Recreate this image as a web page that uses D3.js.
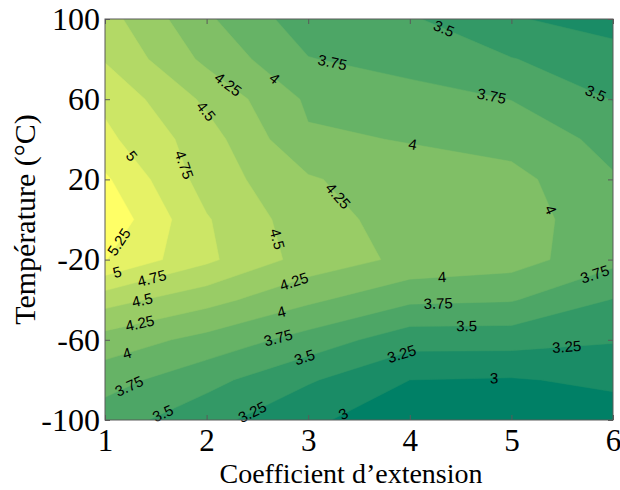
<!DOCTYPE html>
<html><head><meta charset="utf-8">
<script src="https://cdn.jsdelivr.net/npm/d3@7"></script>
<style>body{margin:0;background:#fff}svg{display:block}</style>
</head><body><svg id="chart" width="620" height="490"></svg>
<script>
// ---- data ----
const extension = [1, 2, 3, 4, 5, 6];
const temperature = [100, 80, 60, 40, 20, 0, -20, -40, -60, -80, -100];
const t100  = [4.60, 4.04, 3.61, 3.53, 3.27, 3.15];
const t80   = [4.73, 4.19, 3.76, 3.65, 3.51, 3.35];
const t60   = [4.945, 4.45, 3.96, 3.85, 3.745, 3.49];
const t40   = [5.06, 4.61, 4.03, 3.99, 3.90, 3.68];
const t20   = [5.29, 4.64, 4.28, 4.08, 4.08, 3.77];
const t0    = [5.44, 4.77, 4.35, 4.15, 4.09, 3.88];
const tm20  = [5.26, 4.80, 4.40, 4.19, 4.11, 3.82];
const tm40  = [4.60, 4.34, 4.05, 3.80, 3.77, 3.49];
const tm60  = [4.15, 3.92, 3.65, 3.35, 3.35, 3.27];
const tm80  = [3.85, 3.58, 3.28, 3.00, 2.98, 3.05];
const tm100 = [3.62, 3.34, 3.03, 2.90, 2.88, 2.88];
const levels = [3, 3.25, 3.5, 3.75, 4, 4.25, 4.5, 4.75, 5, 5.25];
const xTicks = [1, 2, 3, 4, 5, 6];
const yTicks = [-100, -60, -20, 20, 60, 100];
// contour labels: level and approximate location (data units)
const labelLevel = [3.5, 3.75, 4.25, 4, 3.5, 3.75, 4.5, 5, 4.75, 4, 4.25, 4, 4.5, 5.25, 5, 4.75, 4.5, 4.25, 4, 3.75, 3.5, 4.25, 4, 3.75, 3.5, 3.25, 3, 4, 3.75, 3.5, 3.25, 3, 3.25, 3.75];
const labelX = [4.33, 3.24, 2.20, 2.64, 5.84, 4.80, 1.97, 1.25, 1.72, 4.02, 3.28, 5.38, 2.66, 1.18, 1.13, 1.46, 1.37, 1.34, 1.20, 1.20, 1.54, 2.89, 2.75, 2.70, 2.96, 2.40, 3.31, 4.32, 4.28, 4.56, 3.93, 4.83, 5.55, 5.84];
const labelY = [94.5, 78.6, 66.6, 68.6, 64.1, 60.1, 53.0, 31.2, 26.2, 35.2, 11.2, 4.7, -10.2, -12.7, -28.2, -29.2, -41.1, -51.1, -64.1, -79.1, -93.5, -35.7, -48.6, -58.1, -68.1, -91.0, -93.5, -31.2, -44.1, -56.1, -68.6, -81.0, -68.1, -30.2];
const xTitle = "Coefficient d\u2019extension";
const yTitle = "Température (°C)";

// ---- layout ----
const svg = d3.select("#chart");
const L = 105, R = 613, T = 19, B = 420;
const x = d3.scaleLinear().domain([1, 6]).range([L, R]);
const y = d3.scaleLinear().domain([-100, 100]).range([B, T]);

const grid = [t100, t80, t60, t40, t20, t0, tm20, tm40, tm60, tm80, tm100];
const nx = extension.length, ny = temperature.length;
const values = grid.flat();
const thresholds = [d3.min(values)].concat(levels);
const summer = t => d3.rgb(255 * t, 255 * (0.5 + 0.5 * t), 102);
const colorOf = i => summer(i / levels.length);

const contours = d3.contours().size([nx, ny]).thresholds(thresholds)(values);

const clampIdx = (c, n) => Math.max(0, Math.min(n - 1, c - 0.5));
const interp = (arr, t) => { const i = Math.max(0, Math.min(arr.length - 2, Math.floor(t))); return arr[i] + (t - i) * (arr[i + 1] - arr[i]); };
const toPx = (cx, cy) => [x(interp(extension, clampIdx(cx, nx))), y(interp(temperature, clampIdx(cy, ny)))];
const proj = d3.geoTransform({ point(px, py) { const p = toPx(px, py); this.stream.point(p[0], p[1]); } });
const path = d3.geoPath(proj);

svg.append("defs").append("clipPath").attr("id", "clip")
  .append("rect").attr("x", L).attr("y", T).attr("width", R - L).attr("height", B - T);

const plot = svg.append("g").attr("clip-path", "url(#clip)");
plot.selectAll("path.band").data(contours).join("path")
  .attr("class", "band")
  .attr("d", path)
  .attr("fill", (d, i) => colorOf(i))
  .attr("stroke", (d, i) => colorOf(i))
  .attr("stroke-width", 0.5);

// ---- labels snapped to contour segments ----
function segmentsFor(level) {
  const c = contours[thresholds.indexOf(level)];
  const segs = [];
  c.coordinates.forEach(poly => poly.forEach(ring => {
    const pts = ring.map(p => toPx(p[0], p[1]));
    for (let k = 0; k < pts.length - 1; k++) {
      const a = pts[k], b = pts[k + 1];
      const onEdge = (u, v) => Math.abs(u - v) < 0.01;
      if ((onEdge(a[0], L) && onEdge(b[0], L)) || (onEdge(a[0], R) && onEdge(b[0], R)) ||
          (onEdge(a[1], T) && onEdge(b[1], T)) || (onEdge(a[1], B) && onEdge(b[1], B))) continue;
      if (Math.hypot(b[0] - a[0], b[1] - a[1]) < 1e-6) continue;
      segs.push([a, b]);
    }
  }));
  return segs;
}
const labels = labelLevel.map((lv, i) => {
  const P = [x(labelX[i]), y(labelY[i])];
  let best = null, bd = Infinity;
  segmentsFor(lv).forEach(([a, b]) => {
    const dx = b[0] - a[0], dy = b[1] - a[1];
    let t = ((P[0] - a[0]) * dx + (P[1] - a[1]) * dy) / (dx * dx + dy * dy);
    t = Math.max(0, Math.min(1, t));
    const q = [a[0] + t * dx, a[1] + t * dy];
    const d = Math.hypot(q[0] - P[0], q[1] - P[1]);
    if (d < bd) { bd = d; best = { q, ang: Math.atan2(dy, dx) * 180 / Math.PI }; }
  });
  let ang = best ? best.ang : 0;
  while (ang > 90) ang -= 180;
  while (ang <= -90) ang += 180;
  const q = best && bd < 15 ? best.q : P;
  return { text: String(lv), px: q[0], py: q[1], ang };
});
svg.append("g").selectAll("text").data(labels).join("text")
  .attr("transform", d => `translate(${d.px},${d.py}) rotate(${d.ang})`)
  .attr("text-anchor", "middle")
  .attr("dy", "0.35em")
  .attr("font-family", "'Liberation Sans', Arial, sans-serif")
  .attr("font-size", 15)
  .attr("fill", "#000")
  .text(d => d.text);

// ---- axes ----
const axisColor = "#5a5a5a";
const fmt = d => String(d);
const styleAxis = size => g => {
  g.select(".domain").remove();
  g.selectAll(".tick line").attr("stroke", axisColor);
  g.selectAll("text").attr("font-family", "'Liberation Serif', 'Times New Roman', serif")
    .attr("font-size", size).attr("fill", "#000");
};
svg.append("g").attr("transform", `translate(0,${B})`)
  .call(d3.axisBottom(x).tickValues(xTicks).tickFormat(fmt).tickSizeInner(-5).tickSizeOuter(0).tickPadding(9))
  .call(styleAxis(31));
svg.append("g").attr("transform", `translate(0,${T})`)
  .call(d3.axisTop(x).tickValues(xTicks).tickFormat("").tickSizeInner(-5).tickSizeOuter(0))
  .call(styleAxis(31));
svg.append("g").attr("transform", `translate(${L},0)`)
  .call(d3.axisLeft(y).tickValues(yTicks).tickFormat(fmt).tickSizeInner(-5).tickSizeOuter(0).tickPadding(5))
  .call(styleAxis(32));
svg.append("g").attr("transform", `translate(${R},0)`)
  .call(d3.axisRight(y).tickValues(yTicks).tickFormat("").tickSizeInner(-5).tickSizeOuter(0))
  .call(styleAxis(32));

svg.append("rect").attr("x", L).attr("y", T).attr("width", R - L).attr("height", B - T)
  .attr("fill", "none").attr("stroke", axisColor).attr("stroke-width", 1);

svg.append("text").attr("x", 351).attr("y", 483)
  .attr("text-anchor", "middle")
  .attr("font-family", "'Liberation Serif', 'Times New Roman', serif").attr("font-size", 28)
  .text(xTitle);
svg.append("text").attr("transform", `translate(35,${(T + B) / 2}) rotate(-90)`)
  .attr("text-anchor", "middle")
  .attr("font-family", "'Liberation Serif', 'Times New Roman', serif").attr("font-size", 30)
  .text(yTitle);
</script>
</body></html>
